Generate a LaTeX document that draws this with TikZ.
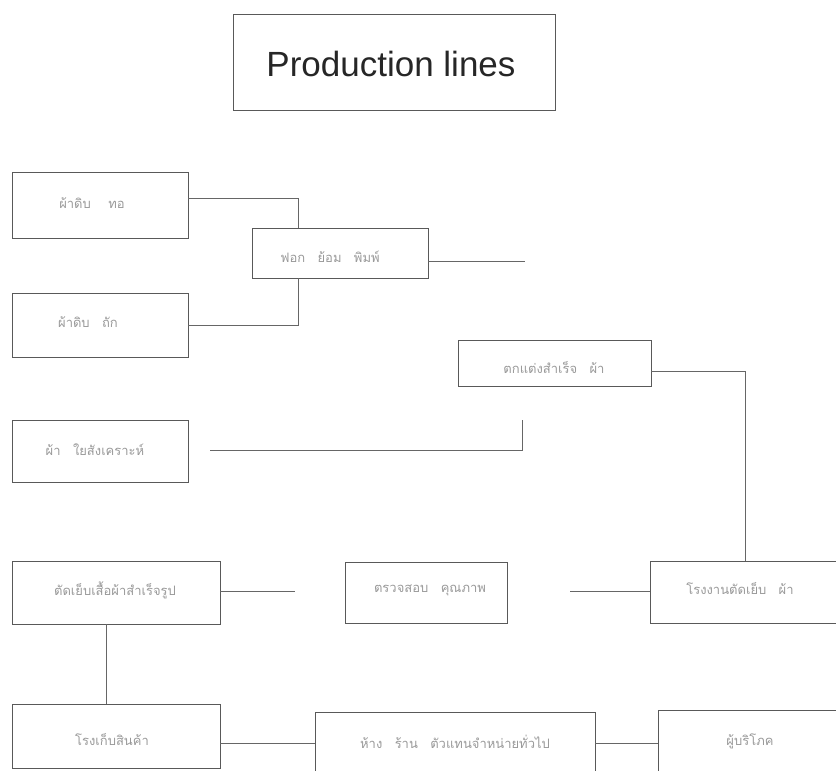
\documentclass[tikz,border=0pt]{standalone}
\usepackage{fontspec}
\setmainfont{Liberation Sans}
\newfontfamily\thaifont[Script=Thai]{Loma}
\begin{document}
\begin{tikzpicture}[x=1pt,y=-1pt,
  box/.style={draw=black!65, line width=0.8pt},
  conn/.style={draw=black!60, line width=0.8pt},
  thaitext/.style={text=black!40, font=\thaifont\fontsize{13}{15}\selectfont, anchor=center},
]
\useasboundingbox (0,0) rectangle (836,771);
% boxes
\draw[box] (233,14) rectangle (555,110);
\node[font=\fontsize{35}{40}\selectfont, text=black!85] (title) at (391,64) {Production lines};

\draw[box] (12,172) rectangle (188,238);
\node[thaitext] (a) at (92,203) {ผ้าดิบ \quad ทอ};
\coordinate (aE) at (188,198);

\draw[box] (252,228) rectangle (428,278);
\node[thaitext] (b) at (330,257) {ฟอก \; ย้อม \; พิมพ์};
\coordinate (bN) at (298,228);
\coordinate (bS) at (298,278);
\coordinate (bE) at (428,261);
\coordinate (bEnd) at (525,261);

\draw[box] (12,293) rectangle (188,357);
\node[thaitext] (c) at (88,322) {ผ้าดิบ \; ถัก};
\coordinate (cE) at (188,325);

\draw[box] (458,340) rectangle (651,386);
\node[thaitext] (d) at (554,368) {ตกแต่งสำเร็จ \; ผ้า};
\coordinate (dE) at (651,371);
\coordinate (dTurn) at (745,371);

\draw[box] (12,420) rectangle (188,482);
\node[thaitext] (e) at (95,450) {ผ้า \; ใยสังเคราะห์};
\coordinate (eE) at (210,450);
\coordinate (eEnd) at (522,450);
\coordinate (eUp) at (522,420);

\draw[box] (12,561) rectangle (220,624);
\node[thaitext] (f) at (115,590) {ตัดเย็บเสื้อผ้าสำเร็จรูป};
\coordinate (fE) at (220,591);
\coordinate (fEnd) at (295,591);
\coordinate (fS) at (106,624);

\draw[box] (345,562) rectangle (507,623);
\node[thaitext] (g) at (430,590) {ตรวจสอบ \; คุณภาพ};

\draw[box] (650,561) rectangle (840,623);
\node[thaitext] (h) at (740,589) {โรงงานตัดเย็บ \; ผ้า};
\coordinate (hN) at (745,561);
\coordinate (hW) at (650,591);
\coordinate (hEnd) at (570,591);

\draw[box] (12,704) rectangle (220,768);
\node[thaitext] (i) at (112,740) {โรงเก็บสินค้า};
\coordinate (iN) at (106,704);
\coordinate (iE) at (220,743);

\draw[box] (315,712) -- (595,712) (315,712) -- (315,780) (595,712) -- (595,780);
\node[thaitext] (j) at (455,742) {ห้าง \; ร้าน \; ตัวแทนจำหน่ายทั่วไป};
\coordinate (jW) at (315,743);
\coordinate (jE) at (595,743);

\draw[box] (658,710) -- (840,710) (658,710) -- (658,780);
\node[thaitext] (k) at (750,741) {ผู้บริโภค};
\coordinate (kW) at (658,743);

% connectors
\draw[conn] (aE) -| (bN);
\draw[conn] (cE) -| (bS);
\draw[conn] (bE) -- (bEnd);
\draw[conn] (dE) -- (dTurn) -- (hN);
\draw[conn] (eE) -- (eEnd) -- (eUp);
\draw[conn] (fE) -- (fEnd);
\draw[conn] (hW) -- (hEnd);
\draw[conn] (fS) -- (iN);
\draw[conn] (iE) -- (jW);
\draw[conn] (jE) -- (kW);
\end{tikzpicture}
\end{document}
